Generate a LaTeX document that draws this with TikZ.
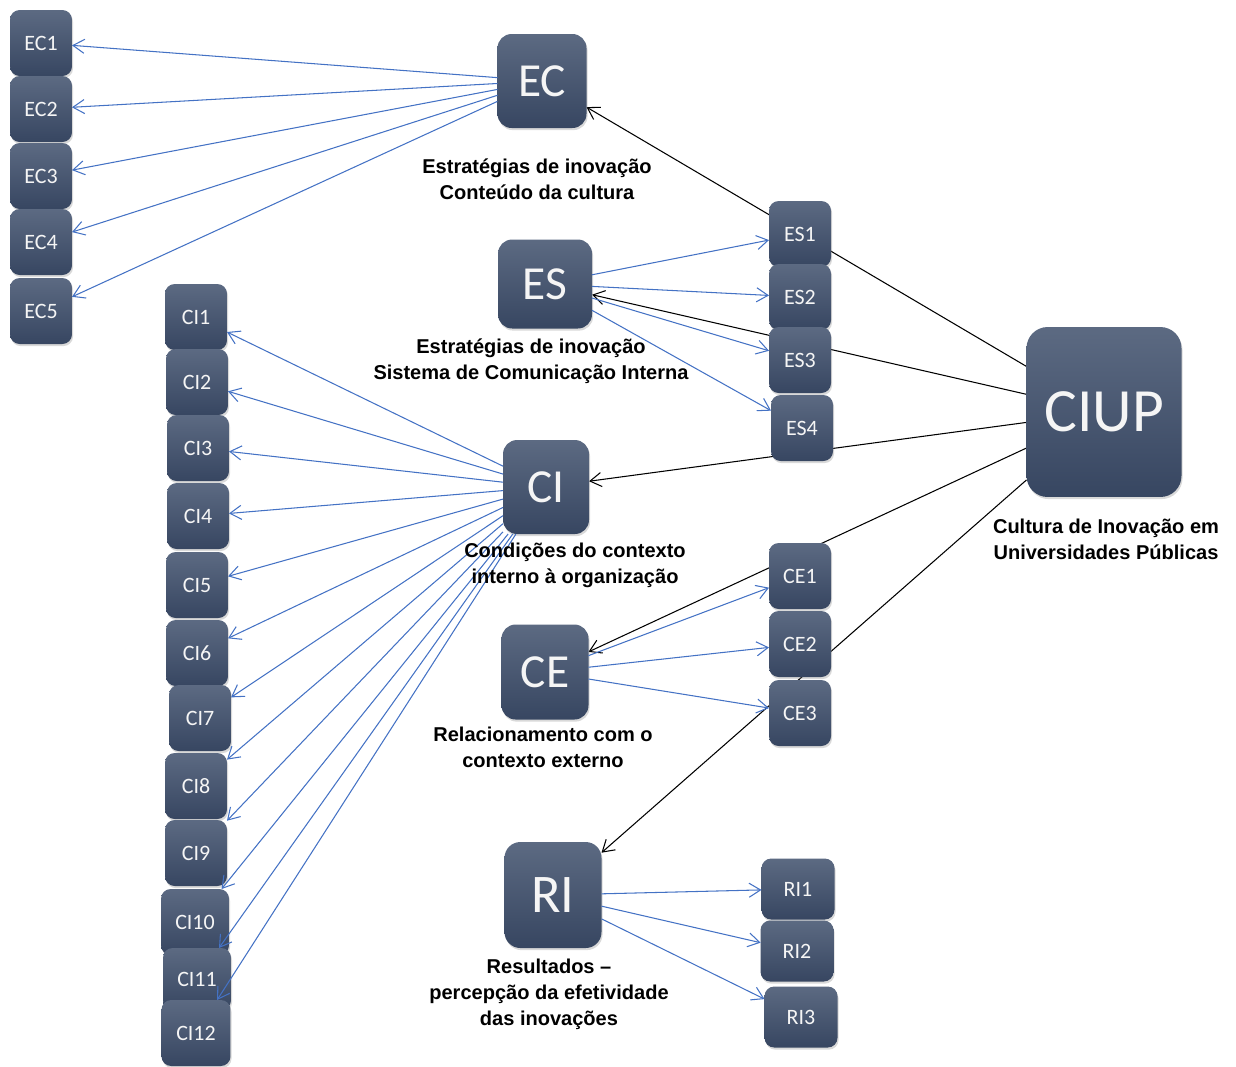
\documentclass[tikz,border=0pt]{standalone}
\usepackage{fontspec}
\usetikzlibrary{arrows.meta,shadows}
\newfontfamily\boxfont{Carlito}
\newfontfamily\capfont{Liberation Sans}
\definecolor{boxtop}{RGB}{92,106,130}
\definecolor{boxbot}{RGB}{55,70,97}
\definecolor{boxtext}{RGB}{245,245,245}
\definecolor{linkblue}{RGB}{68,114,196}
\pgfdeclarelayer{background}
\pgfsetlayers{background,main}
\tikzset{box/.style={inner sep=0pt, outer sep=0pt, rounded corners=5.5pt,
  minimum width=1.24cm, minimum height=1.32cm, top color=boxtop, bottom color=boxbot,
  text=boxtext, font=\boxfont\fontsize{12.5}{15}\selectfont,
  drop shadow={shadow xshift=.6pt, shadow yshift=-1.2pt, opacity=.3}}}
\tikzset{hub/.style={box, rounded corners=8pt, font=\boxfont\fontsize{27}{30}\selectfont}}
\tikzset{edge/.style={color=linkblue, line width=.6pt, -{Straight Barb[length=6.5pt,width=8pt]}}}
\tikzset{tie/.style={color=black, line width=.6pt, -{Straight Barb[length=6.5pt,width=8pt]}}}
\tikzset{boxcaption/.style={align=center, font=\capfont\bfseries\fontsize{11.4}{14.8}\selectfont}}

\begin{document}
\begin{tikzpicture}[x=0.02cm, y=-0.02cm]
  \useasboundingbox (0,0) rectangle (1236,1066);

  \foreach \i/\y in {1/43,2/109,3/176,4/242,5/311}
    \node[box] (EC\i) at (41,\y) {EC\i};
  \foreach \i/\x/\y in {1/196/317,2/197/382,3/198/448,4/198/516,5/197/585,
                        6/197/653,7/200/718,8/196/786,9/196/853}
    \node[box] (CI\i) at (\x,\y) {CI\i};
  \node[box, minimum width=1.36cm] (CI10) at (195,922) {CI10};
  \node[box, minimum width=1.36cm, minimum height=1.24cm] (CI11) at (197,979) {CI11};
  \node[box, minimum width=1.38cm] (CI12) at (196,1033) {CI12};
  \foreach \i/\x/\y in {1/800/234,2/800/297,3/800/360,4/802/428}
    \node[box] (ES\i) at (\x,\y) {ES\i};
  \foreach \i/\y in {1/576,2/644,3/713}
    \node[box] (CE\i) at (800,\y) {CE\i};
  \foreach \i/\x/\y in {1/798/889,2/797/951,3/801/1017}
    \node[box, minimum width=1.46cm, minimum height=1.22cm] (RI\i) at (\x,\y) {RI\i};

  \node[hub, minimum width=1.78cm, minimum height=1.88cm] (EC) at (542,81) {EC};
  \node[hub, minimum width=1.88cm, minimum height=1.78cm] (ES) at (545,284) {ES};
  \node[hub, minimum width=1.72cm, minimum height=1.88cm] (CI) at (546,487) {CI};
  \node[hub, minimum width=1.74cm, minimum height=1.90cm] (CE) at (545,672) {CE};
  \node[hub, minimum width=1.94cm, minimum height=2.12cm, rounded corners=9pt,
        font=\boxfont\fontsize{31}{34}\selectfont] (RI) at (553,895) {RI};
  \node[hub, minimum width=3.1cm, minimum height=3.4cm, rounded corners=12pt,
        font=\boxfont\fontsize{35}{38}\selectfont] (CIUP) at (1104,412) {CIUP};

  \begin{pgfonlayer}{background}
    \foreach \n in {EC,ES,CI,CE,RI}
      \draw[tie] (CIUP) -- (\n);
  \end{pgfonlayer}

  \foreach \i in {1,...,5}
    \draw[edge] (EC) -- (EC\i);
  \foreach \i in {1,...,4}
    \draw[edge] (ES) -- (ES\i);
  \foreach \i in {1,...,12}
    \draw[edge] (CI) -- (CI\i);
  \foreach \i in {1,2,3} {
    \draw[edge] (CE) -- (CE\i);
    \draw[edge] (RI) -- (RI\i);
  }

  \node[boxcaption] (capEC) at (537,179) {Estratégias de inovação\\Conteúdo da cultura};
  \node[boxcaption] (capES) at (531,361) {Estratégias de inovação\\Sistema de Comunicação Interna};
  \node[boxcaption] (capCI) at (575,565) {Condições do contexto\\interno à organização};
  \node[boxcaption] (capCE) at (543,747) {Relacionamento com o\\contexto externo};
  \node[boxcaption] (capRI) at (549,994) {Resultados –\\percepção da efetividade\\das inovações};
  \node[boxcaption] (capCIUP) at (1106,539) {Cultura de Inovação em\\Universidades Públicas};
\end{tikzpicture}
\end{document}
